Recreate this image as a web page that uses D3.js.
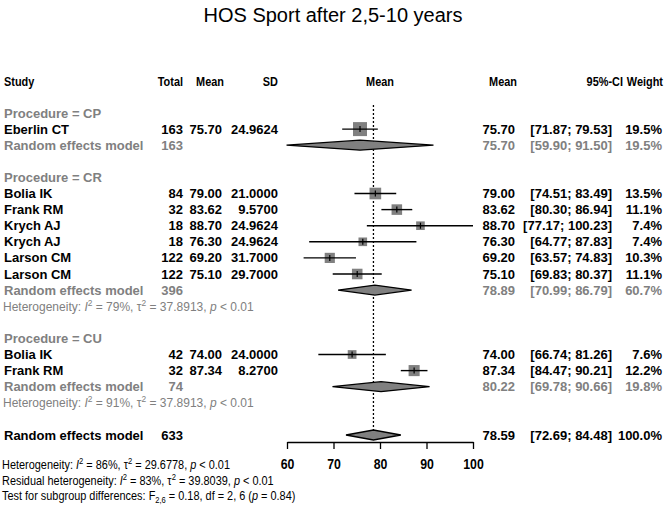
<!DOCTYPE html>
<html>
<head>
<meta charset="utf-8">
<script src="https://cdn.jsdelivr.net/npm/d3@7"></script>
<style>
  body { margin: 0; background: #fff; }
  text { font-family: "Liberation Sans", Arial, sans-serif; }
</style>
</head>
<body>
<svg id="chart" width="666" height="507"></svg>
<script>
// study level data
var studies   = ["Eberlin CT", "Bolia IK", "Frank RM", "Krych AJ", "Krych AJ", "Larson CM", "Larson CM", "Bolia IK", "Frank RM"];
var groups    = ["CP", "CR", "CR", "CR", "CR", "CR", "CR", "CU", "CU"];
var totals    = [163, 84, 32, 18, 18, 122, 122, 42, 32];
var means     = [75.70, 79.00, 83.62, 88.70, 76.30, 69.20, 75.10, 74.00, 87.34];
var sds       = [24.9624, 21.0000, 9.5700, 24.9624, 24.9624, 31.7000, 29.7000, 24.0000, 8.2700];
var ciLower   = [71.87, 74.51, 80.30, 77.17, 64.77, 63.57, 69.83, 66.74, 84.47];
var ciUpper   = [79.53, 83.49, 86.94, 100.23, 87.83, 74.83, 80.37, 81.26, 90.21];
var weights   = [19.5, 13.5, 11.1, 7.4, 7.4, 10.3, 11.1, 7.6, 12.2];

// subgroup random effects
var subgroups  = ["CP", "CR", "CU"];
var subTotals  = [163, 396, 74];
var subMeans   = [75.70, 78.89, 80.22];
var subLower   = [59.90, 70.99, 69.78];
var subUpper   = [91.50, 86.79, 90.66];
var subWeights = [19.5, 60.7, 19.8];
var subI2      = [null, 79, 91];
var subTau2    = [null, 37.8913, 37.8913];

// overall
var overallTotal = 633, overallMean = 78.59, overallLower = 72.69, overallUpper = 84.48, overallWeight = 100.0;
var overallI2 = 86, overallTau2 = 29.6778;
var residI2 = 83, residTau2 = 39.8039;
var testF = 0.18, testP = 0.84;

var ticks = [60, 70, 80, 90, 100];

var svg = d3.select("#chart");
var grey = "#808080";
var squeeze = 0.84; // no condensed face installed, so scale horizontally

var x = d3.scaleLinear().domain([60, 100]).range([287, 473]);
var row = d3.scaleLinear().domain([0, 1]).range([113, 129.1]);

// build the row list
var rows = [];
var r = 0;
subgroups.forEach(function(g, gi){
  rows.push({type: "group", label: "Procedure = " + g, i: r++});
  studies.forEach(function(s, si){
    if(groups[si] == g)
      rows.push({type: "study", k: si, i: r++});
  });
  rows.push({type: "sub", k: gi, i: r++});
  if(subI2[gi] != null)
    rows.push({type: "het", k: gi, i: r++});
  r++;
});
var overallRow = r;

// title
svg.append("text")
  .attr("x", 333).attr("y", 22)
  .attr("text-anchor", "middle")
  .attr("font-size", 20)
  .text("HOS Sport after 2,5-10 years");

// header
var hy = row(-2) + 5;
var header = [
  {t: "Study", x: 4, a: "start"},
  {t: "Total", x: 183, a: "end"},
  {t: "Mean", x: 224, a: "end"},
  {t: "SD", x: 278, a: "end"},
  {t: "Mean", x: x(80), a: "middle"},
  {t: "Mean", x: 517, a: "end"},
  {t: "95%-CI", x: 623, a: "end"},
  {t: "Weight", x: 663, a: "end"}
];
svg.append("g").selectAll("text")
  .data(header)
  .enter().append("text")
  .attr("transform", function(d){ return "translate(" + d.x + "," + hy + ") scale(" + squeeze + ",1)"; })
  .attr("text-anchor", function(d){ return d.a; })
  .attr("font-size", 13)
  .attr("font-weight", "bold")
  .text(function(d){ return d.t; });

// reference line at overall mean
svg.append("line")
  .attr("x1", x(overallMean)).attr("x2", x(overallMean))
  .attr("y1", row(0) - 8).attr("y2", row(overallRow) - 4)
  .attr("stroke", "#000")
  .attr("stroke-width", 1.3)
  .attr("stroke-dasharray", "2,2");

var fmt2 = d3.format(".2f");
var fmt4 = d3.format(".4f");
function ciText(lo, hi){ return "[" + fmt2(lo) + "; " + fmt2(hi) + "]"; }

function cell(g, xx, y, txt, anchor, color){
  g.append("text")
    .attr("x", xx).attr("y", y)
    .attr("text-anchor", anchor)
    .attr("font-size", 13)
    .attr("font-weight", "bold")
    .attr("fill", color)
    .text(txt);
}

function diamond(y, lo, mid, hi){
  var h = 5;
  svg.append("path")
    .attr("d", "M" + x(lo) + "," + y + "L" + x(mid) + "," + (y - h) + "L" + x(hi) + "," + y + "L" + x(mid) + "," + (y + h) + "Z")
    .attr("fill", grey)
    .attr("stroke", "#000")
    .attr("stroke-width", 1.3);
}

function statText(g, xx, y, size, color, narrow){
  var t = g.append("text")
    .attr("font-size", size)
    .attr("fill", color);
  if(narrow)
    t.attr("transform", "translate(" + xx + "," + y + ") scale(" + squeeze + ",1)");
  else
    t.attr("x", xx).attr("y", y);
  return t;
}

function addHet(t, prefix, i2, tau2, size){
  t.append("tspan").text(prefix);
  t.append("tspan").attr("font-style", "italic").text("I");
  t.append("tspan").attr("font-size", size * 0.7).attr("dy", -5).text("2");
  t.append("tspan").attr("dy", 5).text(" = " + i2 + "%, \u03c4");
  t.append("tspan").attr("font-size", size * 0.7).attr("dy", -5).text("2");
  t.append("tspan").attr("dy", 5).text(" = " + fmt4(tau2) + ", ");
  t.append("tspan").attr("font-style", "italic").text("p");
  t.append("tspan").text(" < 0.01");
}

var body = svg.append("g");

rows.forEach(function(d){
  var y = row(d.i);
  var by = y + 4.5;
  if(d.type == "group"){
    cell(body, 4, by, d.label, "start", grey);
  }
  if(d.type == "study"){
    var k = d.k;
    cell(body, 4, by, studies[k], "start", "#000");
    cell(body, 183, by, totals[k], "end", "#000");
    cell(body, 222, by, fmt2(means[k]), "end", "#000");
    cell(body, 278, by, fmt4(sds[k]), "end", "#000");
    cell(body, 515, by, fmt2(means[k]), "end", "#000");
    cell(body, 612, by, ciText(ciLower[k], ciUpper[k]), "end", "#000");
    cell(body, 662, by, weights[k].toFixed(1) + "%", "end", "#000");

    var side = 3.17 * Math.sqrt(weights[k]);
    body.append("rect")
      .attr("x", x(means[k]) - side / 2)
      .attr("y", y - side / 2)
      .attr("width", side).attr("height", side)
      .attr("fill", grey);
    body.append("line")
      .attr("x1", x(Math.max(ciLower[k], 60))).attr("x2", x(Math.min(ciUpper[k], 100)))
      .attr("y1", y).attr("y2", y)
      .attr("stroke", "#000").attr("stroke-width", 1.4);
    body.append("line")
      .attr("x1", x(means[k])).attr("x2", x(means[k]))
      .attr("y1", y - 3).attr("y2", y + 3)
      .attr("stroke", "#000").attr("stroke-width", 1.2);
  }
  if(d.type == "sub"){
    var g = d.k;
    cell(body, 4, by, "Random effects model", "start", grey);
    cell(body, 183, by, subTotals[g], "end", grey);
    cell(body, 515, by, fmt2(subMeans[g]), "end", grey);
    cell(body, 612, by, ciText(subLower[g], subUpper[g]), "end", grey);
    cell(body, 662, by, subWeights[g].toFixed(1) + "%", "end", grey);
    diamond(y, subLower[g], subMeans[g], subUpper[g]);
  }
  if(d.type == "het"){
    var t = statText(body, 3, by, 12, grey, false);
    addHet(t, "Heterogeneity: ", subI2[d.k], subTau2[d.k], 12);
  }
});

// overall random effects
var oy = row(overallRow);
cell(body, 4, oy + 4.5, "Random effects model", "start", "#000");
cell(body, 183, oy + 4.5, overallTotal, "end", "#000");
cell(body, 515, oy + 4.5, fmt2(overallMean), "end", "#000");
cell(body, 612, oy + 4.5, ciText(overallLower, overallUpper), "end", "#000");
cell(body, 662, oy + 4.5, overallWeight.toFixed(1) + "%", "end", "#000");
diamond(oy, overallLower, overallMean, overallUpper);

// x axis
var xAxis = d3.axisBottom(x)
  .tickValues(ticks)
  .tickSize(7)
  .tickSizeOuter(0)
  .tickPadding(10);
var axisG = svg.append("g")
  .attr("transform", "translate(0," + 442 + ")")
  .call(xAxis);
axisG.select(".domain").attr("stroke", "#000").attr("stroke-width", 1.3);
axisG.selectAll(".tick line").attr("stroke", "#000").attr("stroke-width", 1.3);
axisG.selectAll(".tick text")
  .attr("font-family", "Liberation Sans")
  .attr("font-size", 14)
  .attr("font-weight", "bold")
  .attr("fill", "#000")
  .attr("transform", "scale(0.88,1)")
  .attr("x", function(){ return 0; });

// bottom statistics
var b1 = statText(svg, 2, 469, 13, "#000", true);
addHet(b1, "Heterogeneity: ", overallI2, overallTau2, 13);
var b2 = statText(svg, 2, 485, 13, "#000", true);
addHet(b2, "Residual heterogeneity: ", residI2, residTau2, 13);
var b3 = statText(svg, 2, 500, 13, "#000", true);
b3.append("tspan").text("Test for subgroup differences: F");
b3.append("tspan").attr("font-size", 9).attr("dy", 3).text("2,6");
b3.append("tspan").attr("dy", -3).text(" = " + testF.toFixed(2) + ", df = 2, 6 (");
b3.append("tspan").attr("font-style", "italic").text("p");
b3.append("tspan").text(" = " + testP.toFixed(2) + ")");
</script>
</body>
</html>
